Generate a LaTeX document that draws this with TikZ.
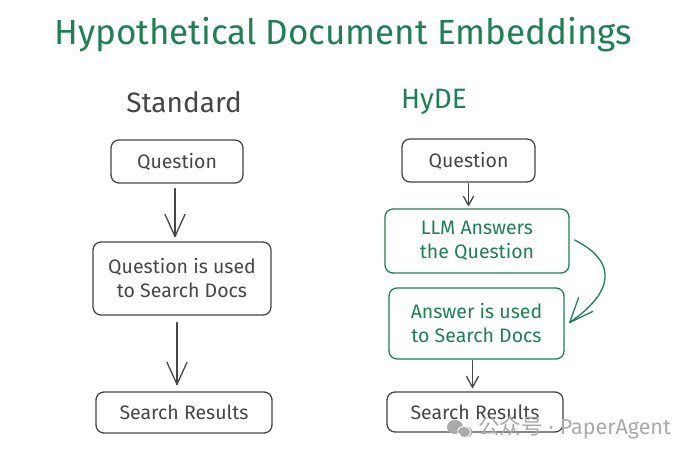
\documentclass[tikz,border=0pt]{standalone}
\usepackage{fontspec}
\setmainfont{Fira Sans}
\newfontfamily\cjkwm{Noto Sans CJK SC}
\definecolor{hgreen}{RGB}{30,128,84}
\definecolor{hgray}{RGB}{70,70,72}
\definecolor{wmgray}{RGB}{170,170,170}
\tikzset{
  box/.style={draw=hgray, line width=1.3pt, rounded corners=8pt, text=hgray, font=\fontsize{19.5}{24}\selectfont, align=center, inner sep=0pt},
  gbox/.style={box, draw=hgreen, text=hgreen},
  arr/.style={draw=hgray, line width=1.3pt, line cap=round, line join=round},
  garr/.style={arr, draw=hgreen},
}
\begin{document}
\begin{tikzpicture}[x=1pt,y=-1pt]
\useasboundingbox[fill=white] (0,0) rectangle (692,455);
% titles
\node[text=hgreen, font=\fontsize{35}{40}\selectfont] (title) at (343,35) {Hypothetical Document Embeddings};
\node[text=hgray, font=\fontsize{28}{32}\selectfont] (std) at (184,102) {Standard};
\node[text=hgreen, font=\fontsize{28}{32}\selectfont] (hyde) at (434,102) {HyDE};
% left column
\node[box, minimum width=132pt, minimum height=43pt] (q1) at (177,161.5) {Question};
\node[box, minimum width=178pt, minimum height=73pt] (s1) at (182,278.5) {Question is used\\to Search Docs};
\node[box, minimum width=176pt, minimum height=41pt] (r1) at (184,412.5) {Search Results};
% right column
\node[box, minimum width=133pt, minimum height=43pt] (q2) at (468.5,160.5) {Question};
\node[gbox, minimum width=184pt, minimum height=64pt] (l2) at (477,241) {LLM Answers\\the Question};
\node[gbox, minimum width=175pt, minimum height=71pt] (a2) at (476.5,323.5) {Answer is used\\to Search Docs};
\node[box, minimum width=176pt, minimum height=40pt] (r2) at (475,412) {Search Results};
% arrow end points (yshift is upward on the page)
\coordinate (e1) at ([xshift=-2pt,yshift=5pt]q1.south |- s1.north);
\coordinate (e2) at ([xshift=-5pt,yshift=7pt]s1.south |- r1.north);
\coordinate (e3) at ([yshift=3pt]q2.south |- l2.north);
\coordinate (e4) at ([xshift=-4pt,yshift=4pt]a2.south |- r2.north);
\coordinate (e5) at ([xshift=5pt,yshift=1pt]a2.east);
% arrows
\draw[arr] ([xshift=-2pt,yshift=-5pt]q1.south) -- (e1);
\draw[arr] ([xshift=-10pt,yshift=22pt]e1) -- (e1) -- ([xshift=10pt,yshift=22pt]e1);
\draw[arr] ([xshift=-5pt,yshift=-7pt]s1.south) -- (e2);
\draw[arr] ([xshift=-10pt,yshift=22pt]e2) -- (e2) -- ([xshift=10pt,yshift=22pt]e2);
\draw[arr] ([yshift=-1pt]q2.south) -- (e3);
\draw[arr] ([xshift=-5pt,yshift=9pt]e3) -- (e3) -- ([xshift=5pt,yshift=9pt]e3);
\draw[arr] ([xshift=-4pt,yshift=-1pt]a2.south) -- (e4);
\draw[arr] ([xshift=-6pt,yshift=11pt]e4) -- (e4) -- ([xshift=6pt,yshift=11pt]e4);
\draw[garr] ([xshift=5pt,yshift=1pt]l2.east) .. controls (618,262) and (614,292) .. (e5);
\draw[garr] ([xshift=23pt,yshift=11pt]e5) -- (e5) -- ([xshift=9pt,yshift=25pt]e5);
% watermark
\fill[wmgray] (455,427) ellipse (8pt and 7pt);
\fill[wmgray] (466,432) ellipse (6.5pt and 5.5pt);
\draw[white, line width=1pt] (464,432) ellipse (6.5pt and 5.5pt);
\node[text=wmgray, font=\fontsize{21.5}{24}\selectfont, anchor=west, inner sep=0pt] (wm) at (478,428) {{\cjkwm 公众号}\;·\;PaperAgent};
\end{tikzpicture}
\end{document}
